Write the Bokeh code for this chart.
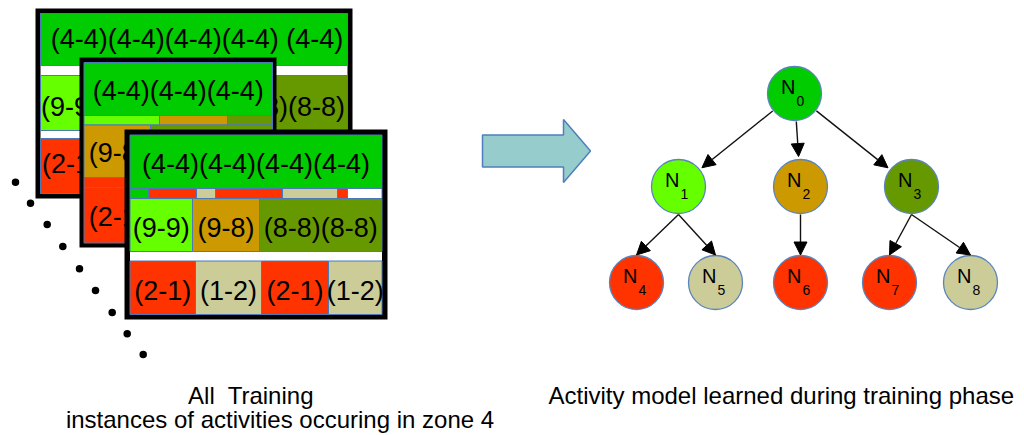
import math
from bokeh.plotting import figure
from bokeh.models import Range1d, ColumnDataSource, Arrow, NormalHead
from bokeh.core.properties import value
from bokeh.embed import file_html
from bokeh.resources import INLINE

# ---------------- colours ----------------
GREEN, LIME, GOLD, OLIVE = "#00cc00", "#66ff00", "#cc9900", "#669900"
RED, BEIGE, WHITE = "#ff3300", "#cccc99", "#ffffff"
CELL_LINE = "#4a78b8"
FONT = "Liberation Sans"

# ---------------- card contents (labels / colours) ----------------
C1_R1_LABELS = ["(4-4)(4-4)(4-4)(4-4) (4-4)"]
C1_R1_COLORS = [GREEN]
C1_R2_LABELS = ["(9-9)", "(9-8)", "(8-8)(8-8)"]
C1_R2_COLORS = [LIME, GOLD, OLIVE]
C1_R3_LABELS = ["(2-1)", "(1-2)", "(2-1)", "(1-2)"]
C1_R3_COLORS = [RED, BEIGE, RED, BEIGE]

C2_R1_LABELS = ["(4-4)(4-4)(4-4)"]
C2_R1_COLORS = [GREEN]
C2_S1_COLORS = [LIME, GOLD, OLIVE]
C2_R2_LABELS = ["(9-8)", "(8-8)(8-8)"]
C2_R2_COLORS = [GOLD, OLIVE]
C2_S2_COLORS = [RED]
C2_R3_LABELS = ["(2-1)", "(1-2)"]
C2_R3_COLORS = [RED, BEIGE]

C3_R1_LABELS = ["(4-4)(4-4)(4-4)(4-4)"]
C3_R1_COLORS = [GREEN]
C3_S1_COLORS = [GREEN, RED, BEIGE, RED, BEIGE, RED, WHITE]
C3_R2_LABELS = ["(9-9)", "(9-8)", "(8-8)(8-8)"]
C3_R2_COLORS = [LIME, GOLD, OLIVE]
C3_R3_LABELS = ["(2-1)", "(1-2)", "(2-1)", "(1-2)"]
C3_R3_COLORS = [RED, BEIGE, RED, BEIGE]

# ---------------- tree contents ----------------
NODE_IDS = ["0", "1", "2", "3", "4", "5", "6", "7", "8"]
NODE_COLORS = [GREEN, LIME, GOLD, OLIVE, RED, BEIGE, RED, RED, BEIGE]
EDGES = [(0, 1), (0, 2), (0, 3), (1, 4), (1, 5), (2, 6), (3, 7), (3, 8)]

LEFT_CAPTION = ["All\u00a0 Training", "instances of activities occuring in zone 4"]
RIGHT_CAPTION = "Activity model learned during training phase"

# ---------------- layout (positions in picture pixels) ----------------
C1_OUTER = (35, 352, 8, 198)
C1_INNER = (40, 347, 13, 193)
C1_R1 = ([40, 347], 13, 65, 47)
C1_R2 = ([40, 98, 228, 347], 75, 130, 115)
C1_R3 = ([40, 100, 160, 230, 347], 138, 193, 172)

C2_OUTER = (79, 276, 57, 247)
C2_INNER = (83.5, 272, 62, 242.5)
C2_R1 = ([83.5, 272], 62, 115, 99)
C2_S1 = ([83.5, 159, 227, 272], 115, 124.5)
C2_R2 = ([83.5, 150, 272], 124.5, 177, 161)
C2_S2 = ([83.5, 272], 177, 187)
C2_R3 = ([83.5, 150, 272], 187, 242.5, 225)

C3_OUTER = (124, 387, 129, 319)
C3_INNER = (129.5, 381.5, 134.5, 314)
C3_R1 = ([129.5, 381.5], 134.5, 188, 172)
C3_S1 = ([129.5, 148, 196, 215, 282, 337, 347, 381.5], 188, 198)
C3_R2 = ([129.5, 192, 259, 381.5], 198, 251, 236)
C3_R3 = ([129.5, 195, 261, 328, 381.5], 260.5, 314, 299)

DOT_X = [15, 30, 46.7, 62.3, 79, 95, 111.7, 126.7, 142.7]
DOT_Y = [181.7, 202.7, 224, 246, 268.3, 290, 312, 333.3, 354]

BIG_ARROW_X = [482, 563, 563, 590, 563, 563, 482]
BIG_ARROW_Y = [134.5, 134.5, 119, 150.5, 182, 166.5, 166.5]

NODE_X = [794, 678, 800, 911, 636, 715, 800, 889, 970]
NODE_Y = [93, 186, 186, 186, 282, 282, 282, 282, 282]
NODE_DIAM = 54
EDGE_STYLE = ["radial", "radial", "radial", "vertical", "vertical", "vertical", "vertical", "vertical"]

# correction of the rendered baseline (fraction of font size)
BASE_FIX = 0.30

# ---------------- figure ----------------
W, H = 1024, 435
p = figure(width=W, height=H, x_range=Range1d(0, W), y_range=Range1d(H, 0),
           output_backend="svg", toolbar_location=None, min_border=0,
           x_axis_location=None, y_axis_location=None)
p.grid.visible = False
p.outline_line_color = None
p.background_fill_color = "white"
p.border_fill_color = "white"


def txt(xs, ys, texts, size, align):
    p.text(x=xs, y=[y - BASE_FIX * size for y in ys], text=texts, text_font=value(FONT),
           text_font_size=f"{size}px", text_align=align, text_baseline="alphabetic",
           text_color="#000000")


def box(rect, color):
    l, r, t, b = rect
    p.quad(left=[l], right=[r], top=[t], bottom=[b], fill_color=color, line_color=None)


def row(spec, colors, labels=None, dx=0):
    edges, y0, y1 = spec[0], spec[1], spec[2]
    n = len(colors)
    src = ColumnDataSource(dict(left=edges[:-1], right=edges[1:], top=[y0] * n,
                                bottom=[y1] * n, color=colors))
    p.quad(left="left", right="right", top="top", bottom="bottom", fill_color="color",
           line_color=CELL_LINE, line_width=1, source=src)
    if labels:
        base = spec[3]
        xs = [(edges[i] + edges[i + 1]) / 2 + dx for i in range(len(labels))]
        txt(xs, [base] * len(labels), labels, 27, "center")


# card 1 (back)
box(C1_OUTER, "#000000")
box(C1_INNER, WHITE)
row(C1_R1, C1_R1_COLORS, C1_R1_LABELS, dx=3)
row(C1_R2, C1_R2_COLORS, C1_R2_LABELS)
row(C1_R3, C1_R3_COLORS, C1_R3_LABELS)

# card 2 (middle)
box(C2_OUTER, "#000000")
box(C2_INNER, WHITE)
row(C2_R1, C2_R1_COLORS, C2_R1_LABELS)
row(C2_S1, C2_S1_COLORS)
row(C2_R2, C2_R2_COLORS, C2_R2_LABELS)
row(C2_S2, C2_S2_COLORS)
row(C2_R3, C2_R3_COLORS, C2_R3_LABELS)

# card 3 (front)
box(C3_OUTER, "#000000")
box(C3_INNER, WHITE)
row(C3_R1, C3_R1_COLORS, C3_R1_LABELS)
row(C3_S1, C3_S1_COLORS)
row(C3_R2, C3_R2_COLORS, C3_R2_LABELS)
row(C3_R3, C3_R3_COLORS, C3_R3_LABELS)

# dots
p.scatter(x=DOT_X, y=DOT_Y, size=7.5, marker="circle", fill_color="#000000", line_color=None)

# big arrow
p.patch(x=BIG_ARROW_X, y=BIG_ARROW_Y, fill_color="#96cccc", line_color="#4f7fbd", line_width=1.5)

# tree edges
R = NODE_DIAM / 2
x0s, y0s, x1s, y1s = [], [], [], []
for (a, b), style in zip(EDGES, EDGE_STYLE):
    xa, ya, xb, yb = NODE_X[a], NODE_Y[a], NODE_X[b], NODE_Y[b]
    if style == "radial":
        dx, dy = xb - xa, yb - ya
        d = math.hypot(dx, dy)
        ux, uy = dx / d, dy / d
        x0s.append(xa + (R + 1) * ux); y0s.append(ya + (R + 1) * uy)
        x1s.append(xb - (R + 3) * ux); y1s.append(yb - (R + 3) * uy)
    else:
        x0s.append(xa); y0s.append(ya + R + 1)
        x1s.append(xb); y1s.append(yb - R - 0.5)
esrc = ColumnDataSource(dict(x0=x0s, y0=y0s, x1=x1s, y1=y1s))
p.add_layout(Arrow(end=NormalHead(size=13, fill_color="#000000", line_color="#000000", line_width=1),
                   x_start="x0", y_start="y0", x_end="x1", y_end="y1",
                   line_color="#111111", line_width=1.4, source=esrc))

# nodes
p.scatter(x=NODE_X, y=NODE_Y, size=NODE_DIAM, marker="circle", fill_color=NODE_COLORS,
          line_color="#5a84bc", line_width=1.3)
txt([x + 1 for x in NODE_X], [y - 1 for y in NODE_Y], ["N"] * len(NODE_X), 20, "right")
txt([x + 2 for x in NODE_X], [y + 12 for y in NODE_Y], NODE_IDS, 14, "left")

# captions
txt([250.5, 279.5], [402, 426.5], LEFT_CAPTION, 24, "center")
txt([548], [402], [RIGHT_CAPTION], 24, "left")

open("out.html", "w").write(file_html(p, INLINE, title="Activity model"))
